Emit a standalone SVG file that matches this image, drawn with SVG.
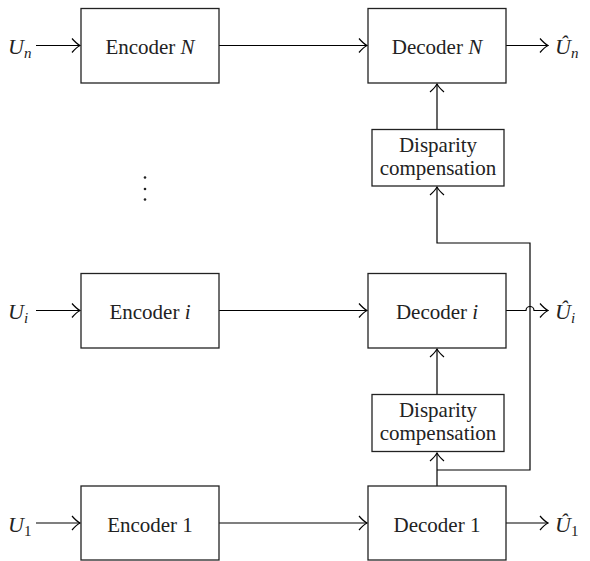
<svg xmlns="http://www.w3.org/2000/svg" width="590" height="561" viewBox="0 0 590 561">
<defs>
<marker id="arr" viewBox="-10 -8 11 16" refX="0" refY="0" markerWidth="11" markerHeight="16" markerUnits="userSpaceOnUse" orient="auto">
<path d="M-8,-7 Q-3.5,-1.8 0,0 Q-3.5,1.8 -8,7" fill="none" stroke="#000" stroke-width="1.2"/>
</marker>
</defs>
<style>
.box{fill:#fff;stroke:#222;stroke-width:1.3}
.ln{fill:none;stroke:#000;stroke-width:1.2}
.t{font-family:"Liberation Serif","Times New Roman",serif;font-size:21px;fill:#222;text-anchor:middle}
.v{font-family:"Liberation Serif","Times New Roman",serif;font-size:22px;fill:#222;font-style:italic}
.s{font-size:15px}
</style>
<rect width="590" height="561" fill="#fff"/>
<g id="connectors">
<path class="ln" d="M36,45.5 H80" marker-end="url(#arr)"/>
<path class="ln" d="M36,310.5 H80" marker-end="url(#arr)"/>
<path class="ln" d="M36,523 H80" marker-end="url(#arr)"/>
<path class="ln" d="M219,45.5 H367" marker-end="url(#arr)"/>
<path class="ln" d="M219,310.5 H367" marker-end="url(#arr)"/>
<path class="ln" d="M219,523 H367" marker-end="url(#arr)"/>
<path class="ln" d="M506,45.5 H548" marker-end="url(#arr)"/>
<path class="ln" d="M506,310.5 H526 A4,4 0 0 1 534,310.5 H548" marker-end="url(#arr)"/>
<path class="ln" d="M506,523 H548" marker-end="url(#arr)"/>
<path class="ln" d="M437,129 V84" marker-end="url(#arr)"/>
<path class="ln" d="M437,394 V349" marker-end="url(#arr)"/>
<path class="ln" d="M437,486 V453" marker-end="url(#arr)"/>
<path class="ln" d="M437,470 H530 V243 H437 V187" marker-end="url(#arr)"/>
</g>
<g id="encN"><rect class="box" x="81" y="8.5" width="138" height="74.5"/><text class="t" x="150" y="54">Encoder <tspan font-style="italic">N</tspan></text></g>
<g id="enci"><rect class="box" x="81" y="273.5" width="138" height="74.5"/><text class="t" x="150" y="319">Encoder <tspan font-style="italic">i</tspan></text></g>
<g id="enc1"><rect class="box" x="81" y="486" width="138" height="74"/><text class="t" x="150" y="531.5">Encoder 1</text></g>
<g id="decN"><rect class="box" x="368" y="8.5" width="138" height="74.5"/><text class="t" x="437" y="54">Decoder <tspan font-style="italic">N</tspan></text></g>
<g id="deci"><rect class="box" x="368" y="273.5" width="138" height="74.5"/><text class="t" x="437" y="319">Decoder <tspan font-style="italic">i</tspan></text></g>
<g id="dec1"><rect class="box" x="368" y="486" width="138" height="74"/><text class="t" x="437" y="531.5">Decoder 1</text></g>
<g id="dispN"><rect class="box" x="372" y="129.5" width="132" height="56.5"/><text class="t" x="438" y="152">Disparity</text><text class="t" x="438" y="175">compensation</text></g>
<g id="dispi"><rect class="box" x="372" y="394.5" width="132" height="57"/><text class="t" x="438" y="417">Disparity</text><text class="t" x="438" y="440">compensation</text></g>
<g id="labels">
<text class="v" x="8" y="54">U<tspan class="s" dy="4">n</tspan></text>
<text class="v" x="8" y="319">U<tspan class="s" dy="4">i</tspan></text>
<text class="v" x="8" y="531.5">U<tspan class="s" dy="4" font-style="normal">1</tspan></text>
<text class="v" x="555" y="54">Û<tspan class="s" dy="4">n</tspan></text>
<text class="v" x="555" y="319">Û<tspan class="s" dy="4">i</tspan></text>
<text class="v" x="555" y="531.5">Û<tspan class="s" dy="4" font-style="normal">1</tspan></text>
</g>
<g id="vdots" fill="#222"><circle cx="145" cy="177.5" r="1.3"/><circle cx="145" cy="189" r="1.3"/><circle cx="145" cy="199.5" r="1.3"/></g>
</svg>
